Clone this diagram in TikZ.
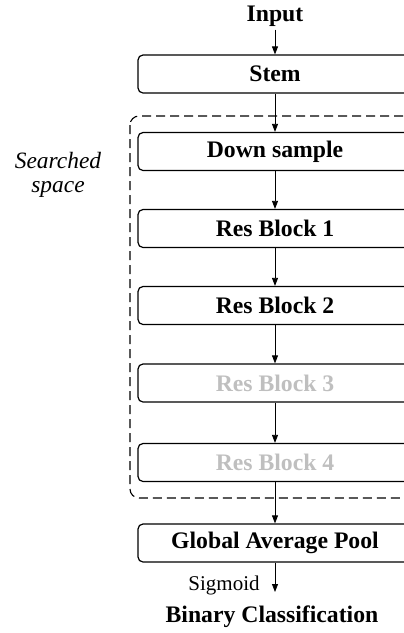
\documentclass[tikz,border=0pt]{standalone}
\usepackage{fontspec}
\setmainfont{Liberation Serif}
\usetikzlibrary{arrows.meta}
\begin{document}
\begin{tikzpicture}[x=1pt,y=-1pt,
  every node/.style={font=\fontsize{23.7}{26}\selectfont\bfseries},
  block/.style={draw, line width=1.2pt, rounded corners=5pt,
    minimum width=274pt, minimum height=38pt, inner sep=0pt},
  faded/.style={block, text=black!25},
  flow/.style={line width=0.8pt, -{Triangle[length=8pt,width=6pt]}},
  searchbox/.style={draw, line width=1.1pt, rounded corners=9pt,
    dash pattern=on 9pt off 5pt}
]
\useasboundingbox (0,0) rectangle (404,633);
\clip (0,0) rectangle (404,633);

% labels and stages
\node[anchor=base] (input) at (275,21) {Input};
\node[block] (stem) at (275,74) {Stem};
\node[block] (down) at (275,151.5) {Down sample};
\node[block] (rb1) at (275,228.5) {Res Block 1};
\node[block] (rb2) at (275,305.5) {Res Block 2};
\node[faded] (rb3) at (275,383) {Res Block 3};
\node[faded] (rb4) at (275,462.5) {Res Block 4};
\node[block] (gap) at (275,543) {Global Average Pool};
\node[anchor=base] (binary) at (272,622) {Binary Classification};

% searched region
\draw[searchbox] (130,116) rectangle (420,498);
\node[font=\fontsize{23.4}{24}\selectfont\itshape, align=center] (space) at (58,175)
  {Searched\\space};

% connectors
\draw[flow] (input) -- (stem);
\draw[flow] (stem) -- (down);
\draw[flow] (down) -- (rb1);
\draw[flow] (rb1) -- (rb2);
\draw[flow] (rb2) -- (rb3);
\draw[flow] (rb3) -- (rb4);
\draw[flow] (rb4) -- (gap);
\coordinate (sigend) at (275,592);
\draw[flow] (gap) -- (sigend);
\node[anchor=base, font=\fontsize{21}{22}\selectfont\mdseries] (sig) at (224,590) {Sigmoid};
\end{tikzpicture}
\end{document}
